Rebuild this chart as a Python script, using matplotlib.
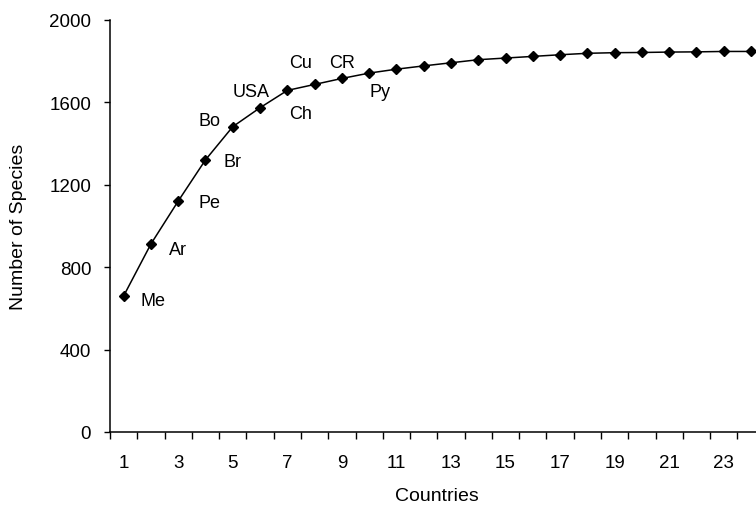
import matplotlib
matplotlib.use("Agg")
import matplotlib.pyplot as plt
from matplotlib.ticker import FixedLocator, NullFormatter

plt.rcParams['font.family'] = ['Liberation Sans', 'DejaVu Sans']

countries = list(range(1, 25))
species = [660, 912, 1120, 1320, 1481, 1573, 1657, 1686, 1715, 1741,
           1760, 1776, 1791, 1806, 1814, 1822, 1830, 1837, 1840, 1841,
           1843, 1844, 1846, 1846]

label_text = ["Me", "Ar", "Pe", "Br", "Bo", "USA", "Ch", "Cu", "CR", "Py"]
label_x = [2.09, 3.0, 4.16, 4.98, 4.16, 5.69, 7.48, 7.48, 9.0, 10.39]
label_y = [637, 887, 1114, 1313, 1510, 1650, 1545, 1790, 1793, 1654]

y_ticks = [0, 400, 800, 1200, 1600, 2000]
x_tick_labels = list(range(1, 24, 2))

fig = plt.figure(figsize=(7.56, 5.10), dpi=100)
ax = fig.add_axes([0.1455, 0.151, 0.866, 0.8084])

ax.plot(countries, species, color='black', linewidth=1.1, marker='D',
        markersize=4.8, markerfacecolor='black', markeredgecolor='black')

for t, x, y in zip(label_text, label_x, label_y):
    ax.text(x, y, t, ha='center', va='center', fontsize=13, color='black')

ax.set_xlim(0.5, 24.5)
ax.set_ylim(0, 2000)
ax.set_yticks(y_ticks)
ax.set_yticklabels([str(v) for v in y_ticks], fontsize=13.5)

ax.xaxis.set_major_locator(FixedLocator([v + 0.5 for v in range(0, 25)]))
ax.xaxis.set_major_formatter(NullFormatter())
ax.xaxis.set_minor_locator(FixedLocator(x_tick_labels))
ax.set_xticklabels([str(v) for v in x_tick_labels], minor=True, fontsize=13.5)
ax.tick_params(axis='x', which='minor', length=0, pad=16)
ax.tick_params(axis='x', which='major', direction='out', length=5, width=1)
ax.tick_params(axis='y', direction='out', length=4.5, width=1, pad=9)

for s in ['top', 'right']:
    ax.spines[s].set_visible(False)
for s in ['left', 'bottom']:
    ax.spines[s].set_linewidth(1.1)

ax.set_xlabel("Countries", fontsize=14)
ax.set_ylabel("Number of Species", fontsize=14)
ax.xaxis.label.set_va('center')
ax.yaxis.label.set_va('center')
ax.xaxis.set_label_coords((437 - 110) / (0.866 * 756), (433 - 497) / 412.3)
ax.yaxis.set_label_coords((18.5 - 110) / (0.866 * 756), 0.5)

fig.savefig("out.png", dpi=100)
